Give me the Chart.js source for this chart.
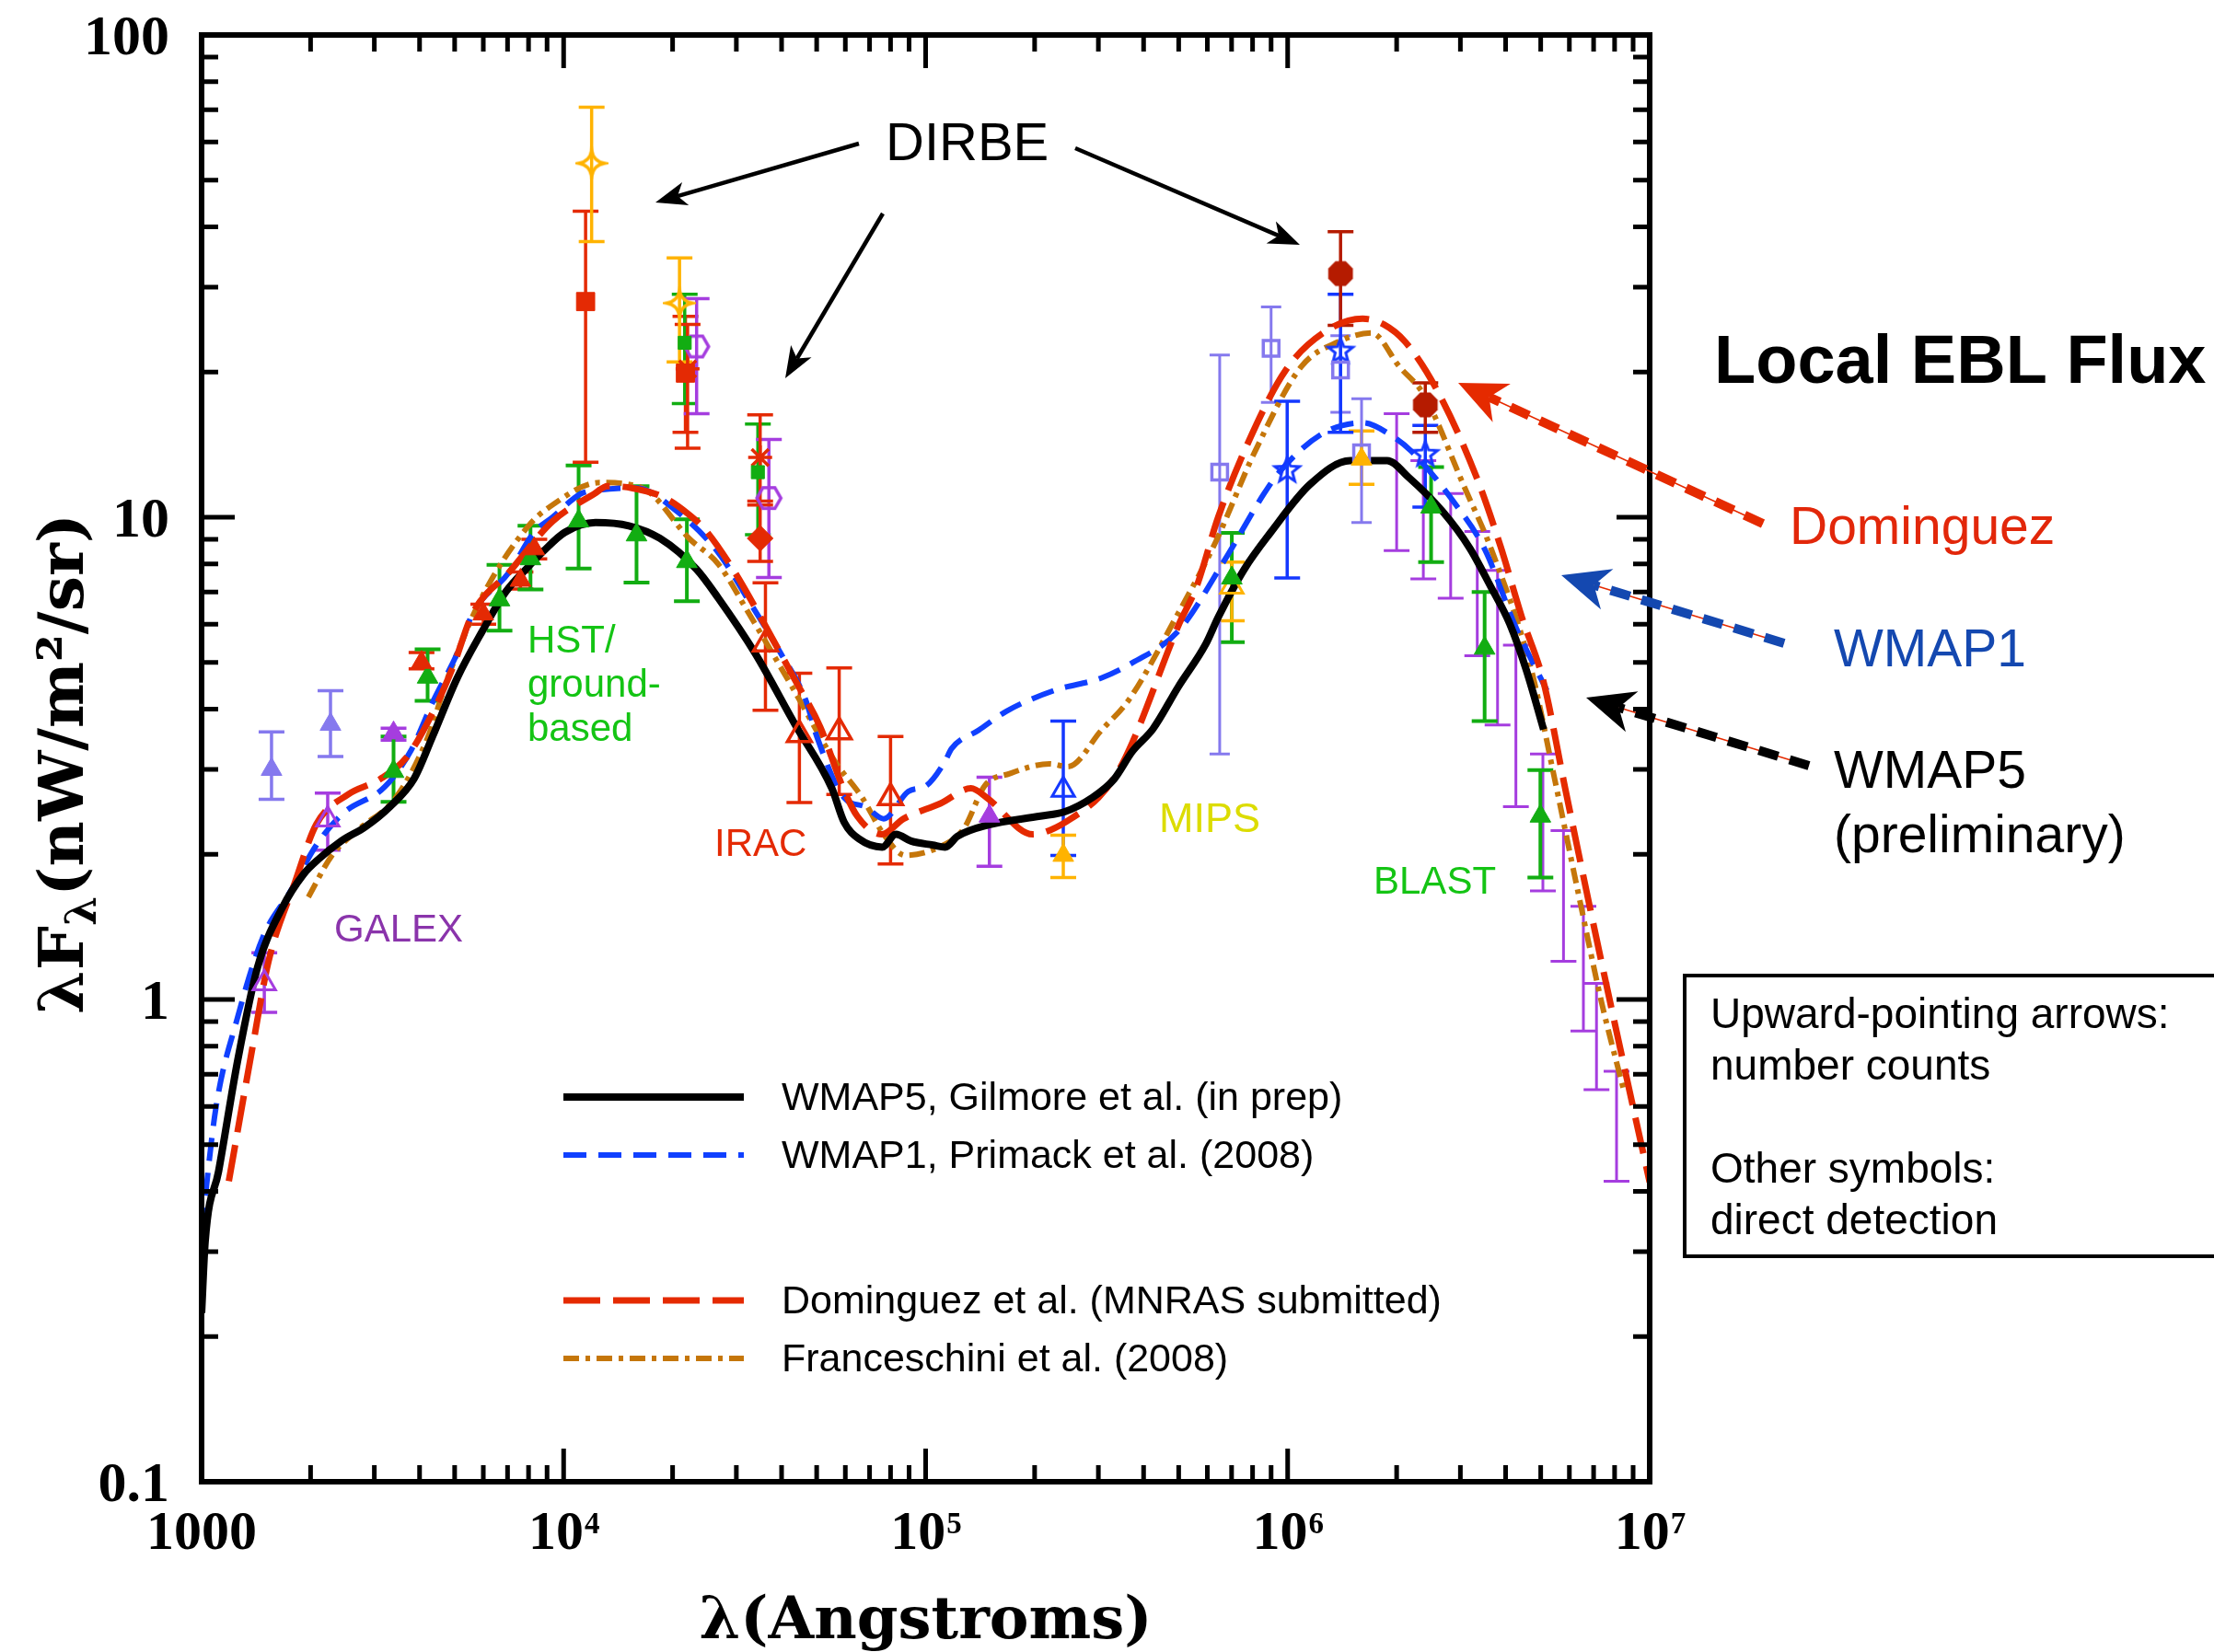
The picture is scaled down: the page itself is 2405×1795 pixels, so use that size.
<!DOCTYPE html>
<html>
<head>
<meta charset="utf-8">
<title>Local EBL Flux</title>
<script src="https://cdn.jsdelivr.net/npm/chart.js@4.4.1/dist/chart.umd.min.js"></script>
<style>
  html, body { margin: 0; padding: 0; background: #fff; overflow: hidden; }
  #eblChart { display: block; }
</style>
</head>
<body>
<canvas id="eblChart" width="2405" height="1795"></canvas>
<script>
// ---- model curves: wavelength (Angstrom) vs lambda*F_lambda (nW/m^2/sr) ----
const wmap5Lambda = [1000, 1023, 1114, 1259, 1429, 1671, 1914, 2113, 2427, 2831, 3311, 3864, 4345, 5082, 5943, 6918, 7998, 8790, 10070, 12250, 15140, 18450, 23280, 26730, 33810, 43550, 55080, 59570, 65610, 75860, 82790, 91200, 104700, 113200, 122500, 148600, 207500, 242100, 288400, 331100, 372400, 424600, 498900, 594300, 642700, 758600, 897400, 1153000, 1489000, 1884000, 2158000, 2673000, 3184000, 3631000, 4111000, 4571000, 5093000];
const wmap5Flux = [0.224, 0.315, 0.44, 0.75, 1.17, 1.55, 1.82, 1.96, 2.13, 2.28, 2.51, 2.87, 3.51, 4.64, 5.78, 7.0, 7.9, 8.5, 9.3, 9.75, 9.6, 9.04, 7.8, 6.8, 5.22, 3.72, 2.74, 2.33, 2.15, 2.07, 2.20, 2.13, 2.09, 2.07, 2.18, 2.30, 2.40, 2.45, 2.62, 2.86, 3.27, 3.64, 4.45, 5.46, 6.2, 7.8, 9.3, 11.7, 13.1, 13.1, 12.1, 10.3, 8.63, 7.2, 6.0, 4.8, 3.63];

const wmap1Lambda = [1000, 1094, 1253, 1479, 1754, 2075, 2455, 3206, 3793, 4345, 5140, 5598, 7079, 8279, 9311, 11190, 12590, 15920, 20180, 26730, 32510, 39810, 46560, 50120, 59570, 68080, 76560, 89540, 100700, 113200, 117800, 140300, 167100, 228000, 305500, 372400, 498900, 668300, 861000, 948400, 1247000, 1611000, 1954000, 2198000, 2891000, 3508000, 4266000, 5200000];
const wmap1Flux = [0.332, 0.593, 0.91, 1.35, 1.67, 2.09, 2.43, 2.76, 3.29, 4.13, 5.32, 6.3, 7.7, 9.3, 10.0, 11.2, 11.4, 11.5, 10.4, 8.45, 6.70, 5.22, 4.19, 3.5, 2.62, 2.51, 2.37, 2.70, 2.78, 3.12, 3.31, 3.62, 3.96, 4.38, 4.64, 4.99, 5.81, 8.13, 11.2, 12.4, 14.9, 15.7, 14.7, 13.7, 10.7, 8.56, 5.92, 4.37];

const domLambda = [1189, 1384, 1531, 1811, 2075, 2535, 3105, 3673, 4345, 4966, 5598, 7079, 9311, 12190, 13210, 15420, 18880, 21930, 24660, 29510, 36060, 43750, 51170, 58750, 64710, 75680, 86900, 109900, 133400, 147600, 197700, 222300, 251800, 299900, 337300, 372400, 498900, 561000, 642700, 781600, 988600, 1274000, 1611000, 1845000, 2113000, 2570000, 3311000, 3873000, 4436000, 5082000, 5848000, 7096000, 8472000, 10000000];
const domFlux = [0.42, 0.80, 1.2, 1.75, 2.31, 2.66, 2.86, 3.17, 3.93, 4.93, 6.3, 7.7, 9.8, 11.2, 11.6, 11.5, 11.0, 10.2, 9.4, 7.75, 5.96, 4.57, 3.67, 2.78, 2.40, 2.20, 2.37, 2.55, 2.74, 2.62, 2.20, 2.25, 2.37, 2.62, 2.94, 3.41, 5.96, 7.2, 10.0, 14.4, 20.2, 24.3, 25.8, 25.1, 23.1, 18.5, 12.2, 8.7, 6.2, 4.58, 2.73, 1.36, 0.735, 0.418];

const franLambda = [1972, 2291, 2710, 3436, 4198, 4808, 5929, 7998, 9141, 12590, 16480, 22340, 26730, 32510, 42760, 56100, 66830, 76560, 87900, 108900, 127400, 145900, 170600, 219800, 247200, 306200, 364800, 498900, 631000, 812800, 1089000, 1377000, 1706000, 2037000, 2382000, 3069000, 3656000, 4710000, 5395000, 6310000, 7379000, 8472000];
const franFlux = [1.63, 1.99, 2.25, 2.62, 3.47, 4.69, 6.8, 9.6, 10.5, 11.8, 11.5, 9.0, 8.0, 6.31, 4.45, 3.12, 2.62, 2.20, 1.99, 2.07, 2.26, 2.78, 2.94, 3.08, 3.04, 3.62, 4.19, 6.33, 8.85, 13.7, 20.5, 23.1, 24.1, 20.5, 17.9, 11.6, 8.56, 4.83, 3.0, 1.70, 0.98, 0.65];

// ---- measurements: wavelength, value, lower and upper end of error bar ----
const uvLavLambda = [1560, 2270];
const uvLavFlux = [3.0, 3.72];
const uvLavLo = [2.6, 3.19];
const uvLavHi = [3.59, 4.37];

const galexLambda = [1490, 2230];
const galexFlux = [1.08, 2.36];
const galexLo = [0.94, 2.04];
const galexHi = [1.25, 2.68];

const purpleTriLambda = [3390, 150000];
const purpleTriFlux = [3.57, 2.40];
const purpleTriLo = [3.45, 1.89];
const purpleTriHi = [3.65, 2.89];

const greenTriLambda = [3390, 4210, 6650, 8100, 11000, 15900, 21900, 701000, 2490000, 3500000, 4990000];
const greenTriFlux = [2.97, 4.66, 6.74, 8.2, 9.82, 9.19, 8.09, 7.48, 10.5, 5.35, 2.40];
const greenTriLo = [2.57, 4.16, 5.82, 7.08, 7.83, 7.32, 6.70, 5.51, 8.07, 3.78, 1.79];
const greenTriHi = [3.51, 5.32, 7.97, 9.6, 12.8, 11.6, 9.9, 9.28, 12.7, 7.0, 2.99];

const redTriLambda = [4050, 6000, 7600, 8300];
const redTriFlux = [5.0, 6.3, 7.4, 8.6];
const redTriLo = [4.85, 6.0, 7.1, 8.2];
const redTriHi = [5.24, 6.6, 7.7, 9.0];

const iracLambda = [36100, 44800, 57700, 80000];
const iracFlux = [5.46, 3.54, 3.59, 2.62];
const iracLo = [3.98, 2.56, 2.66, 1.91];
const iracHi = [7.31, 4.75, 4.87, 3.51];

const redSquareLambda = [11500, 21700];
const redSquareFlux = [28.0, 19.9];
const redSquareLo = [13.0, 15.0];
const redSquareHi = [43.1, 26.1];

const redStarLambda = [22000, 34900];
const redStarFlux = [20.3, 13.3];
const redStarLo = [13.9, 10.8];
const redStarHi = [25.1, 16.3];

const redDiamondLambda = [34900];
const redDiamondFlux = [9.04];
const redDiamondLo = [8.1];
const redDiamondHi = [10.6];

const orangeStarLambda = [11950, 20900];
const orangeStarFlux = [54.2, 27.8];
const orangeStarLo = [37.3, 21.0];
const orangeStarHi = [70.8, 34.5];

const greenSquareLambda = [21600, 34400];
const greenSquareFlux = [23.0, 12.4];
const greenSquareLo = [17.2, 9.2];
const greenSquareHi = [29.0, 15.6];

const hexLambda = [23300, 36900];
const hexFlux = [22.6, 10.96];
const hexLo = [16.4, 7.5];
const hexHi = [28.4, 14.5];

const blueTriLambda = [240000];
const blueTriFlux = [2.72];
const blueTriLo = [1.99];
const blueTriHi = [3.78];

const orangeTriLambda = [240000, 1600000];
const orangeTriFlux = [1.99, 13.2];
const orangeTriLo = [1.79, 11.7];
const orangeTriHi = [2.19, 15.1];

const orangeOpenLambda = [701000];
const orangeOpenFlux = [7.18];
const orangeOpenLo = [6.10];
const orangeOpenHi = [8.07];

const lavSquareLambda = [649000, 900000, 1400000, 1600000];
const lavSquareFlux = [12.4, 22.4, 20.2, 13.6];
const lavSquareLo = [3.23, 17.3, 16.5, 9.75];
const lavSquareHi = [21.7, 27.3, 23.8, 17.6];

const blueStarLambda = [997000, 1400000, 2400000];
const blueStarFlux = [12.5, 22.1, 13.5];
const blueStarLo = [7.48, 15.0, 10.5];
const blueStarHi = [17.4, 29.0, 15.5];

const dirbeFirLambda = [1400000, 2400000];
const dirbeFirFlux = [32.0, 17.1];
const dirbeFirLo = [25.0, 15.0];
const dirbeFirHi = [39.1, 19.0];

const countsBarLambda = [2000000, 2370000, 2820000, 3340000, 3800000, 4270000, 5070000, 5780000, 6560000, 7130000, 8100000];
const countsBarFlux = [11.8, 9.9, 8.7, 6.9, 5.4, 3.7, 2.3, 1.64, 1.16, 0.84, 0.55];
const countsBarLo = [8.53, 7.45, 6.79, 5.16, 3.71, 2.51, 1.68, 1.20, 0.86, 0.65, 0.42];
const countsBarHi = [16.4, 13.1, 11.2, 9.34, 7.76, 5.43, 3.23, 2.24, 1.56, 1.08, 0.71];

// ---- axis labels ----
const xTickValues = [1e3, 1e4, 1e5, 1e6, 1e7];
const xTickBase = ['1000', '10', '10', '10', '10'];
const xTickPower = ['', '4', '5', '6', '7'];
const yTickValues = [0.1, 1, 10, 100];
const yTickLabels = ['0.1', '1', '10', '100'];

const legendLabels = [
  'WMAP5, Gilmore et al. (in prep)',
  'WMAP1, Primack et al. (2008)',
  'Dominguez et al. (MNRAS submitted)',
  'Franceschini et al. (2008)'
];

// colours
const LAV = '#8579ee';
const PURPLE = '#a53ddf';
const GREEN = '#12ad12';
const RED = '#e42a04';
const ORANGE = '#ffb300';
const DARKRED = '#b51b00';
const BLUE = '#1438ff';

const curveStyles = [
  { color: '#000000', width: 8, dash: [] },
  { color: '#1040ff', width: 6, dash: [25, 13] },
  { color: '#e52a00', width: 7, dash: [40, 14] },
  { color: '#c5760a', width: 6, dash: [17, 7, 5, 7] }
];

// small canvases used as custom point styles
function shapeCanvas(size, draw) {
  const c = document.createElement('canvas');
  c.width = size;
  c.height = size;
  draw(c.getContext('2d'), size / 2);
  return c;
}

const star4Open = shapeCanvas(36, (g, c) => {
  const R = 14, k = 2;
  g.beginPath();
  g.moveTo(c, c - R);
  g.quadraticCurveTo(c + k, c - k, c + R, c);
  g.quadraticCurveTo(c + k, c + k, c, c + R);
  g.quadraticCurveTo(c - k, c + k, c - R, c);
  g.quadraticCurveTo(c - k, c - k, c, c - R);
  g.closePath();
  g.lineWidth = 3.5;
  g.strokeStyle = ORANGE;
  g.stroke();
});

const hexOpen = shapeCanvas(36, (g, c) => {
  const R = 13;
  g.beginPath();
  for (let i = 0; i < 6; i++) {
    const a = i * Math.PI / 3;
    g.lineTo(c + R * Math.cos(a), c + R * Math.sin(a));
  }
  g.closePath();
  g.lineWidth = 3.5;
  g.strokeStyle = PURPLE;
  g.stroke();
});

const star5Open = shapeCanvas(36, (g, c) => {
  const R = 14, r = 6;
  g.beginPath();
  for (let i = 0; i < 10; i++) {
    const a = -Math.PI / 2 + i * Math.PI / 5;
    const rr = i % 2 ? r : R;
    g.lineTo(c + rr * Math.cos(a), c + rr * Math.sin(a));
  }
  g.closePath();
  g.lineWidth = 3;
  g.strokeStyle = BLUE;
  g.stroke();
});

const octFilled = shapeCanvas(36, (g, c) => {
  const R = 14.5;
  g.beginPath();
  for (let i = 0; i < 8; i++) {
    const a = Math.PI / 8 + i * Math.PI / 4;
    g.lineTo(c + R * Math.cos(a), c + R * Math.sin(a));
  }
  g.closePath();
  g.fillStyle = DARKRED;
  g.fill();
});

function curve(lam, flux, st, order) {
  return {
    data: lam.map((l, i) => ({ x: l, y: flux[i] })),
    showLine: true,
    pointRadius: 0,
    borderColor: st.color,
    borderWidth: st.width,
    borderDash: st.dash,
    cubicInterpolationMode: 'monotone',
    fill: false,
    order: order
  };
}

function markers(lam, flux, lo, hi, st) {
  return {
    data: lam.map((l, i) => ({ x: l, y: flux[i] })),
    errLo: lo,
    errHi: hi,
    errColor: st.color,
    errWidth: st.errWidth || 3.5,
    capHalf: st.cap || 14,
    showLine: false,
    pointStyle: st.shape,
    pointRadius: st.radius === undefined ? 13 : st.radius,
    backgroundColor: st.fill,
    borderColor: st.color,
    borderWidth: st.border || 1,
    order: 0
  };
}

const NONE = 'rgba(0,0,0,0)';

const datasets = [
  curve(wmap5Lambda, wmap5Flux, curveStyles[0], 1),
  curve(domLambda, domFlux, curveStyles[2], 2),
  curve(wmap1Lambda, wmap1Flux, curveStyles[1], 3),
  curve(franLambda, franFlux, curveStyles[3], 4),

  markers(countsBarLambda, countsBarFlux, countsBarLo, countsBarHi, { color: PURPLE, radius: 0.2, fill: NONE, errWidth: 3 }),
  markers(uvLavLambda, uvLavFlux, uvLavLo, uvLavHi, { color: LAV, shape: 'triangle', fill: LAV }),
  markers(galexLambda, galexFlux, galexLo, galexHi, { color: PURPLE, shape: 'triangle', fill: NONE, radius: 14, border: 3 }),
  markers(purpleTriLambda, purpleTriFlux, purpleTriLo, purpleTriHi, { color: PURPLE, shape: 'triangle', fill: PURPLE }),
  markers(redTriLambda, redTriFlux, redTriLo, redTriHi, { color: RED, shape: 'triangle', fill: RED }),
  markers(greenTriLambda, greenTriFlux, greenTriLo, greenTriHi, { color: GREEN, shape: 'triangle', fill: GREEN, errWidth: 4 }),
  markers(iracLambda, iracFlux, iracLo, iracHi, { color: RED, shape: 'triangle', fill: NONE, radius: 15, border: 3.5 }),
  markers(redSquareLambda, redSquareFlux, redSquareLo, redSquareHi, { color: RED, shape: 'rect', fill: RED, radius: 14 }),
  markers(greenSquareLambda, greenSquareFlux, greenSquareLo, greenSquareHi, { color: GREEN, shape: 'rect', fill: GREEN, radius: 10 }),
  markers(hexLambda, hexFlux, hexLo, hexHi, { color: PURPLE, shape: hexOpen, radius: 14 }),
  markers(redStarLambda, redStarFlux, redStarLo, redStarHi, { color: RED, shape: 'star', fill: RED, radius: 13, border: 3.5 }),
  markers(redDiamondLambda, redDiamondFlux, redDiamondLo, redDiamondHi, { color: RED, shape: 'rectRot', fill: RED, radius: 14 }),
  markers(orangeStarLambda, orangeStarFlux, orangeStarLo, orangeStarHi, { color: ORANGE, shape: star4Open, radius: 14 }),
  markers(blueTriLambda, blueTriFlux, blueTriLo, blueTriHi, { color: BLUE, shape: 'triangle', fill: NONE, radius: 14, border: 3 }),
  markers(orangeTriLambda, orangeTriFlux, orangeTriLo, orangeTriHi, { color: ORANGE, shape: 'triangle', fill: ORANGE }),
  markers(orangeOpenLambda, orangeOpenFlux, orangeOpenLo, orangeOpenHi, { color: ORANGE, shape: 'triangle', fill: NONE, radius: 14, border: 3 }),
  markers(lavSquareLambda, lavSquareFlux, lavSquareLo, lavSquareHi, { color: LAV, shape: 'rect', fill: NONE, radius: 12, border: 3.5, cap: 11, errWidth: 3 }),
  markers(blueStarLambda, blueStarFlux, blueStarLo, blueStarHi, { color: BLUE, shape: star5Open, radius: 14 }),
  markers(dirbeFirLambda, dirbeFirFlux, dirbeFirLo, dirbeFirHi, { color: DARKRED, shape: octFilled, radius: 14 })
];

// error bars go underneath curves and symbols
const errorBarPlugin = {
  id: 'errorBars',
  beforeDatasetsDraw(chart) {
    const { ctx, scales: { x, y } } = chart;
    ctx.save();
    ctx.lineCap = 'butt';
    chart.data.datasets.forEach(ds => {
      if (!ds.errLo) return;
      ctx.strokeStyle = ds.errColor;
      ctx.lineWidth = ds.errWidth;
      ctx.beginPath();
      ds.data.forEach((p, i) => {
        const px = x.getPixelForValue(p.x);
        const yl = y.getPixelForValue(ds.errLo[i]);
        const yh = y.getPixelForValue(ds.errHi[i]);
        ctx.moveTo(px, yl); ctx.lineTo(px, yh);
        ctx.moveTo(px - ds.capHalf, yl); ctx.lineTo(px + ds.capHalf, yl);
        ctx.moveTo(px - ds.capHalf, yh); ctx.lineTo(px + ds.capHalf, yh);
      });
      ctx.stroke();
    });
    ctx.restore();
  }
};

function arrowHead(ctx, x1, y1, ang, len, half, notch, color) {
  ctx.save();
  ctx.translate(x1, y1);
  ctx.rotate(ang);
  ctx.beginPath();
  ctx.moveTo(0, 0);
  ctx.lineTo(-len, -half);
  ctx.lineTo(-len + notch, 0);
  ctx.lineTo(-len, half);
  ctx.closePath();
  ctx.fillStyle = color;
  ctx.fill();
  ctx.restore();
}

function solidArrow(ctx, x0, y0, x1, y1) {
  const ang = Math.atan2(y1 - y0, x1 - x0);
  const len = 34, half = 13, notch = 9;
  ctx.save();
  ctx.strokeStyle = '#000';
  ctx.lineWidth = 4.5;
  ctx.beginPath();
  ctx.moveTo(x0, y0);
  ctx.lineTo(x1 - Math.cos(ang) * (len - notch), y1 - Math.sin(ang) * (len - notch));
  ctx.stroke();
  ctx.restore();
  arrowHead(ctx, x1, y1, ang, len, half, notch, '#000');
}

function dashedArrow(ctx, x0, y0, x1, y1, color) {
  const ang = Math.atan2(y1 - y0, x1 - x0);
  const len = 52, half = 23, notch = 15;
  const bx = x1 - Math.cos(ang) * (len - notch);
  const by = y1 - Math.sin(ang) * (len - notch);
  ctx.save();
  ctx.strokeStyle = '#e52a00';
  ctx.lineWidth = 1.5;
  ctx.beginPath(); ctx.moveTo(x0, y0); ctx.lineTo(bx, by); ctx.stroke();
  ctx.strokeStyle = color;
  ctx.lineWidth = 10;
  ctx.setLineDash([22, 13]);
  ctx.beginPath(); ctx.moveTo(x0, y0); ctx.lineTo(bx, by); ctx.stroke();
  ctx.restore();
  arrowHead(ctx, x1, y1, ang, len, half, notch, color);
}

function label(ctx, str, x, y, font, color) {
  ctx.font = font;
  ctx.fillStyle = color;
  ctx.fillText(str, x, y);
}

// frame, inward ticks, tick labels, titles and annotations
const framePlugin = {
  id: 'frame',
  afterDraw(chart) {
    const { ctx, chartArea: a, scales: { x, y } } = chart;
    ctx.save();

    // minor/major ticks on all four sides
    ctx.strokeStyle = '#000';
    ctx.lineWidth = 5;
    ctx.beginPath();
    for (let d = 1e3; d < 1e7; d *= 10) {
      for (let m = 1; m <= 10; m++) {
        const px = x.getPixelForValue(d * m);
        const len = (m === 1 || m === 10) ? 36 : 18;
        ctx.moveTo(px, a.bottom); ctx.lineTo(px, a.bottom - len);
        ctx.moveTo(px, a.top); ctx.lineTo(px, a.top + len);
      }
    }
    for (let d = 0.1; d < 99; d *= 10) {
      for (let m = 1; m <= 10; m++) {
        const py = y.getPixelForValue(d * m);
        const len = (m === 1 || m === 10) ? 36 : 18;
        ctx.moveTo(a.left, py); ctx.lineTo(a.left + len, py);
        ctx.moveTo(a.right, py); ctx.lineTo(a.right - len, py);
      }
    }
    ctx.stroke();
    ctx.lineWidth = 6;
    ctx.strokeRect(a.left, a.top, a.right - a.left, a.bottom - a.top);

    // tick labels
    ctx.fillStyle = '#000';
    ctx.textBaseline = 'alphabetic';
    const baseFont = 'bold 60px "Liberation Serif"';
    const supFont = 'bold 33px "Liberation Serif"';
    xTickValues.forEach((v, i) => {
      const px = x.getPixelForValue(v);
      ctx.font = baseFont;
      const wb = ctx.measureText(xTickBase[i]).width;
      ctx.font = supFont;
      const ws = xTickPower[i] ? ctx.measureText(xTickPower[i]).width : 0;
      const x0 = px - (wb + ws) / 2;
      ctx.font = baseFont;
      ctx.textAlign = 'left';
      ctx.fillText(xTickBase[i], x0, 1683);
      if (xTickPower[i]) {
        ctx.font = supFont;
        ctx.fillText(xTickPower[i], x0 + wb + 1, 1666);
      }
    });
    ctx.font = 'bold 62px "Liberation Serif"';
    ctx.textAlign = 'right';
    yTickValues.forEach((v, i) => {
      ctx.fillText(yTickLabels[i], 184, y.getPixelForValue(v) + 21);
    });

    // axis titles
    ctx.textAlign = 'center';
    ctx.font = 'bold 64px "DejaVu Serif"';
    ctx.fillText('\u03bb(Angstroms)', (a.left + a.right) / 2, 1780);

    ctx.save();
    ctx.translate(90, 830);
    ctx.rotate(-Math.PI / 2);
    ctx.textAlign = 'left';
    const big = 'bold 68px "DejaVu Serif"';
    const small = 'bold 46px "DejaVu Serif"';
    const parts = [['\u03bbF', big, 0], ['\u03bb', small, 14], ['(nW/m\u00b2/sr)', big, 0]];
    let total = 0;
    parts.forEach(p => { ctx.font = p[1]; total += ctx.measureText(p[0]).width; });
    let cx = -total / 2;
    parts.forEach(p => {
      ctx.font = p[1];
      ctx.fillText(p[0], cx, p[2]);
      cx += ctx.measureText(p[0]).width;
    });
    ctx.restore();

    // legend for the model curves
    const legendY = [1192, 1255, 1413, 1476];
    const order = [0, 1, 2, 3];
    order.forEach((k, i) => {
      const st = curveStyles[k];
      ctx.save();
      ctx.strokeStyle = st.color;
      ctx.lineWidth = st.width;
      ctx.setLineDash(st.dash);
      ctx.beginPath();
      ctx.moveTo(612, legendY[i]);
      ctx.lineTo(808, legendY[i]);
      ctx.stroke();
      ctx.restore();
      ctx.textAlign = 'left';
      label(ctx, legendLabels[i], 849, legendY[i] + 14, '43px "Liberation Sans"', '#000');
    });

    // instrument labels
    ctx.textAlign = 'left';
    const sans = px => px + 'px "Liberation Sans"';
    label(ctx, 'HST/', 573, 709, sans(42), '#14c414');
    label(ctx, 'ground-', 573, 757, sans(42), '#14c414');
    label(ctx, 'based', 573, 805, sans(42), '#14c414');
    label(ctx, 'GALEX', 363, 1023, sans(42), '#8a34ab');
    label(ctx, 'IRAC', 776, 930, sans(42), RED);
    label(ctx, 'MIPS', 1259, 904, sans(45), '#dcdc00');
    label(ctx, 'BLAST', 1492, 971, sans(42), '#14c414');

    // DIRBE callout
    label(ctx, 'DIRBE', 962, 174, sans(58), '#000');
    solidArrow(ctx, 933, 156, 712, 220);
    solidArrow(ctx, 959, 232, 853, 411);
    solidArrow(ctx, 1168, 161, 1412, 266);

    // model name callouts on the right
    label(ctx, 'Local EBL Flux', 1862, 416, 'bold ' + sans(74), '#000');
    label(ctx, 'Dominguez', 1944, 591, sans(57), '#e2270a');
    label(ctx, 'WMAP1', 1992, 724, sans(57), '#1448b0');
    label(ctx, 'WMAP5', 1992, 856, sans(57), '#000');
    label(ctx, '(preliminary)', 1992, 926, sans(57), '#000');
    dashedArrow(ctx, 1915, 569, 1584, 416, '#e52a00');
    dashedArrow(ctx, 1938, 699, 1696, 625, '#1448b0');
    dashedArrow(ctx, 1965, 832, 1723, 758, '#000');

    // note box
    ctx.lineWidth = 4;
    ctx.strokeStyle = '#000';
    ctx.strokeRect(1830, 1060, 700, 305);
    label(ctx, 'Upward-pointing arrows:', 1858, 1117, sans(46), '#000');
    label(ctx, 'number counts', 1858, 1173, sans(46), '#000');
    label(ctx, 'Other symbols:', 1858, 1285, sans(46), '#000');
    label(ctx, 'direct detection', 1858, 1341, sans(46), '#000');

    ctx.restore();
  }
};

new Chart(document.getElementById('eblChart'), {
  type: 'scatter',
  data: { datasets },
  options: {
    responsive: false,
    devicePixelRatio: 1,
    animation: false,
    events: [],
    layout: { padding: { left: 219, right: 613, top: 38, bottom: 185 } },
    plugins: { legend: { display: false }, tooltip: { enabled: false } },
    scales: {
      x: { type: 'logarithmic', min: 1e3, max: 1e7, display: false },
      y: { type: 'logarithmic', min: 0.1, max: 100, display: false }
    }
  },
  plugins: [errorBarPlugin, framePlugin]
});
</script>
</body>
</html>
